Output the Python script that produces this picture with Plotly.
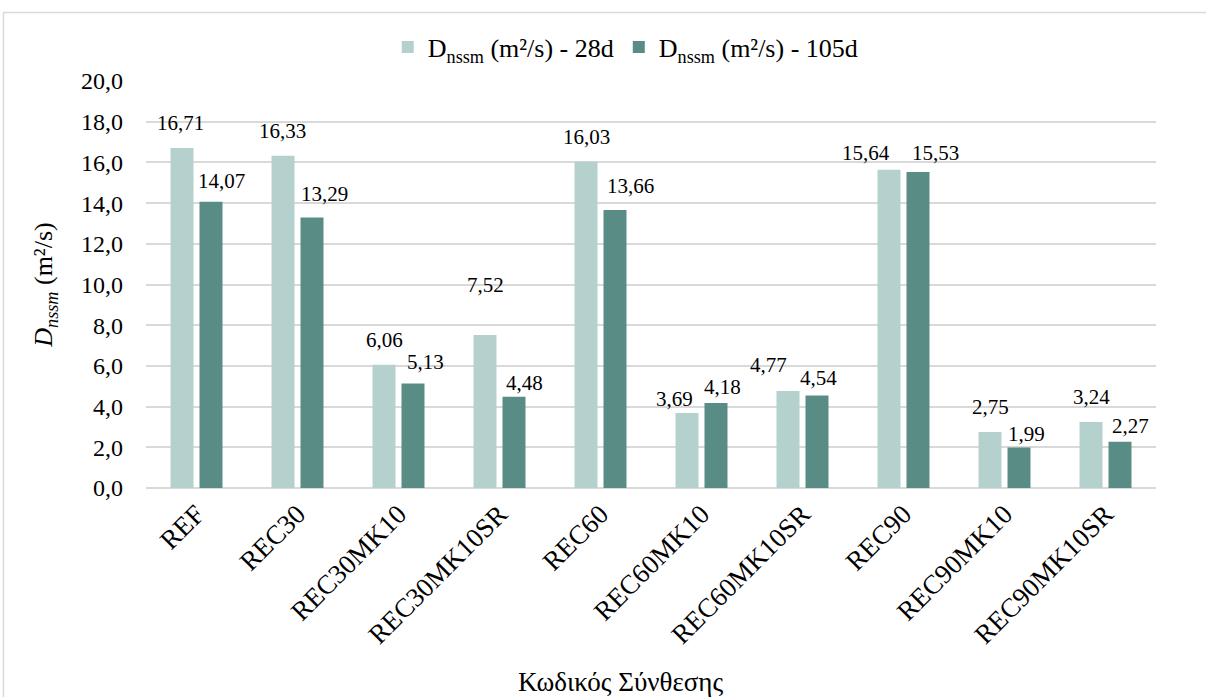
import plotly.graph_objects as go

# Mix codes and chloride migration coefficients
categories = ["REF", "REC30", "REC30MK10", "REC30MK10SR", "REC60",
              "REC60MK10", "REC60MK10SR", "REC90", "REC90MK10", "REC90MK10SR"]
d_28d = [16.71, 16.33, 6.06, 7.52, 16.03, 3.69, 4.77, 15.64, 2.75, 3.24]
d_105d = [14.07, 13.29, 5.13, 4.48, 13.66, 4.18, 4.54, 15.53, 1.99, 2.27]
y_ticks = [0, 2, 4, 6, 8, 10, 12, 14, 16, 18, 20]

series_names = ["D<sub>nssm</sub> (m²/s) - 28d", "D<sub>nssm</sub> (m²/s) - 105d"]
colors = ["#B4D1CD", "#588C85"]

FONT = "Times New Roman, Liberation Serif, serif"

# Label placement tweaks (px): horizontal nudge and gap from bar top to label bottom
nudge_28 = [(-2, 17), (-1, 17), (0, 17), (0, 42), (0, 17), (-13, 6), (-20, 18), (-23, 9), (0, 17), (0, 17)]
nudge_105 = [(10, 13), (12, 16), (12, 14), (10, 6), (15, 16), (6, 8), (1, 10), (17, 11), (7, 6), (10, 8)]


def fmt(v):
    return f"{v:.2f}".replace(".", ",")


fig = go.Figure()
for name, vals, col in zip(series_names, [d_28d, d_105d], colors):
    fig.add_trace(go.Bar(
        x=categories, y=vals, name=name,
        marker=dict(color=col, line=dict(width=0)),
        hoverinfo="x+y",
    ))

annotations = []
bar_offset = 14.5
for vals, nudges, sign in [(d_28d, nudge_28, -1), (d_105d, nudge_105, 1)]:
    for cat, v, (dx, gap) in zip(categories, vals, nudges):
        annotations.append(dict(
            x=cat, y=v, xref="x", yref="y",
            text=fmt(v), showarrow=False,
            xanchor="center", yanchor="bottom",
            xshift=sign * bar_offset + dx, yshift=gap - 6,
            font=dict(family=FONT, size=21, color="#000000"),
        ))

# x-axis title
annotations.append(dict(
    x=0.47, y=-0.477, xref="paper", yref="paper",
    text="Κωδικός Σύνθεσης", showarrow=False,
    xanchor="center", yanchor="middle",
    font=dict(family=FONT, size=27, color="#000000"),
))

fig.update_layout(
    width=1206, height=697,
    margin=dict(l=146, r=50, t=81, b=209, autoexpand=False),
    paper_bgcolor="#FFFFFF", plot_bgcolor="#FFFFFF",
    barmode="group", bargap=0.426, bargroupgap=0.207,
    font=dict(family=FONT, size=24, color="#000000"),
    legend=dict(
        orientation="h", x=0.475, y=1.0835, xanchor="center", yanchor="middle",
        font=dict(family=FONT, size=26, color="#000000"),
        itemwidth=30, tracegroupgap=0, bgcolor="rgba(0,0,0,0)",
    ),
    showlegend=True,
    annotations=annotations,
    shapes=[dict(
        type="rect", xref="paper", yref="paper",
        x0=-0.1411, x1=1.06, y0=-0.53, y1=1.1683,
        line=dict(color="#D9D9D9", width=1.5), fillcolor="rgba(0,0,0,0)", layer="below",
    )],
)

fig.update_xaxes(
    type="category", tickangle=-45, showgrid=False, showline=False, zeroline=False,
    tickfont=dict(family=FONT, size=27, color="#000000"), ticks="", ticklabelstandoff=4,
)
fig.update_yaxes(
    range=[0, 20], tickvals=y_ticks, ticktext=[f"{t:.1f}".replace(".", ",") for t in y_ticks],
    showgrid=True, gridcolor="#D9D9D9", gridwidth=1.5,
    zeroline=True, zerolinecolor="#D9D9D9", zerolinewidth=1.5,
    showline=False, ticks="", ticklabelstandoff=22,
    tickfont=dict(family=FONT, size=24, color="#000000"),
    title=dict(text="<i>D<sub>nssm</sub></i> (m²/s)", standoff=20,
               font=dict(family=FONT, size=26, color="#000000")),
)

fig.write_html("out.html")
